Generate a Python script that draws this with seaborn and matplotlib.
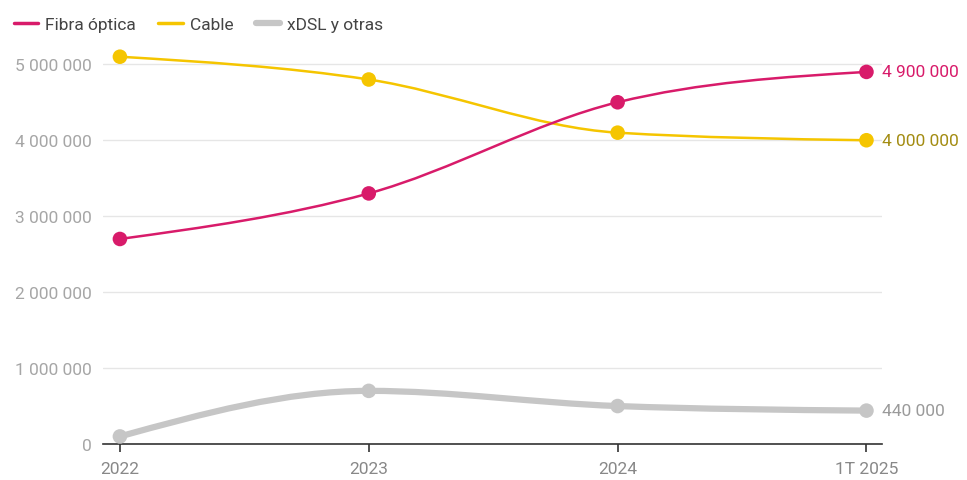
import numpy as np
import pandas as pd
import seaborn as sns
import matplotlib.pyplot as plt
from matplotlib.path import Path
from matplotlib.patches import PathPatch
from matplotlib.lines import Line2D
from matplotlib.ticker import FuncFormatter

# data
periods = ['2022', '2023', '2024', '1T 2025']
fibra = [2700000, 3300000, 4500000, 4900000]
cable = [5100000, 4800000, 4100000, 4000000]
xdsl = [100000, 700000, 500000, 440000]

series_names = ['Fibra óptica', 'Cable', 'xDSL y otras']
colors = ['#d81b6a', '#f5c500', '#c6c6c6']
label_colors = ['#d81b6a', '#a38c12', '#9a9a9a']
widths = [1.8, 1.8, 4.5]

sns.set_style('white')
plt.rcParams['font.family'] = ['Roboto', 'DejaVu Sans']

df = pd.DataFrame({'periodo': periods * 3,
                   'x': list(range(len(periods))) * 3,
                   'valor': fibra + cable + xdsl,
                   'serie': sum([[n] * len(periods) for n in series_names], [])})


def monotone_path(xs, ys):
    # cubic bezier path like d3.curveMonotoneX
    xs = np.asarray(xs, float)
    ys = np.asarray(ys, float)
    n = len(xs)
    h = np.diff(xs)
    s = np.diff(ys) / h
    t = np.zeros(n)
    for i in range(1, n - 1):
        p = (s[i - 1] * h[i] + s[i] * h[i - 1]) / (h[i - 1] + h[i])
        t[i] = (np.sign(s[i - 1]) + np.sign(s[i])) * min(abs(s[i - 1]), abs(s[i]), 0.5 * abs(p))
    t[0] = (3 * s[0] - t[1]) / 2
    t[-1] = (3 * s[-1] - t[-2]) / 2
    verts = [(xs[0], ys[0])]
    codes = [Path.MOVETO]
    for i in range(n - 1):
        dx = h[i] / 3
        verts += [(xs[i] + dx, ys[i] + dx * t[i]),
                  (xs[i + 1] - dx, ys[i + 1] - dx * t[i + 1]),
                  (xs[i + 1], ys[i + 1])]
        codes += [Path.CURVE4] * 3
    return Path(verts, codes)


fig = plt.figure(figsize=(9.67, 4.81), dpi=100)
ax = fig.add_axes([0.1065, 0.0748, 0.806, 0.821])

# draw grey first so colored lines lie on top
for name, col, lw in list(zip(series_names, colors, widths))[::-1]:
    sub = df[df['serie'] == name]
    ax.add_patch(PathPatch(monotone_path(sub['x'], sub['valor']), facecolor='none',
                           edgecolor=col, lw=lw, zorder=3, capstyle='round'))

sns.scatterplot(data=df, x='x', y='valor', hue='serie', palette=dict(zip(series_names, colors)),
                s=110, linewidth=0, legend=False, ax=ax, zorder=4)

# end labels
for name, lc in zip(series_names, label_colors):
    sub = df[df['serie'] == name]
    v = sub['valor'].iloc[-1]
    ax.annotate(f'{v:,.0f}'.replace(',', ' '), (sub['x'].iloc[-1], v), xytext=(11, 0),
                textcoords='offset points', va='center', ha='left', color=lc, fontsize=12.5,
                annotation_clip=False)

ax.set_xlim(-0.068, 3.064)
ax.set_ylim(0, 5200000)
ax.set_xticks(range(len(periods)))
ax.set_xticklabels(periods)
ax.set_yticks(range(0, 5000001, 1000000))
ax.yaxis.set_major_formatter(FuncFormatter(lambda v, p: f'{v:,.0f}'.replace(',', ' ')))
ax.set_xlabel('')
ax.set_ylabel('')
ax.grid(axis='y', color='#e6e6e6', lw=1)
ax.grid(axis='x', visible=False)
for sp in ['top', 'right', 'left']:
    ax.spines[sp].set_visible(False)
ax.spines['bottom'].set_color('#333333')
ax.spines['bottom'].set_linewidth(1.2)
ax.tick_params(axis='x', length=6, width=1.2, color='#333333', labelcolor='#888888',
               labelsize=12.5, pad=6, bottom=True)
ax.tick_params(axis='y', length=0, labelcolor='#a6a6a6', labelsize=12.5, pad=8)

handles = [Line2D([0], [0], color=c, lw=(2.5 if lw < 3 else 4.5)) for c, lw in zip(colors, widths)]
fig.legend(handles, series_names, loc='upper left', bbox_to_anchor=(-0.002, 0.995), ncol=3,
           frameon=False, fontsize=12.5, handlelength=1.4, handletextpad=0.4, columnspacing=1.3,
           labelcolor='#444444')

fig.savefig('out.png', dpi=100)
